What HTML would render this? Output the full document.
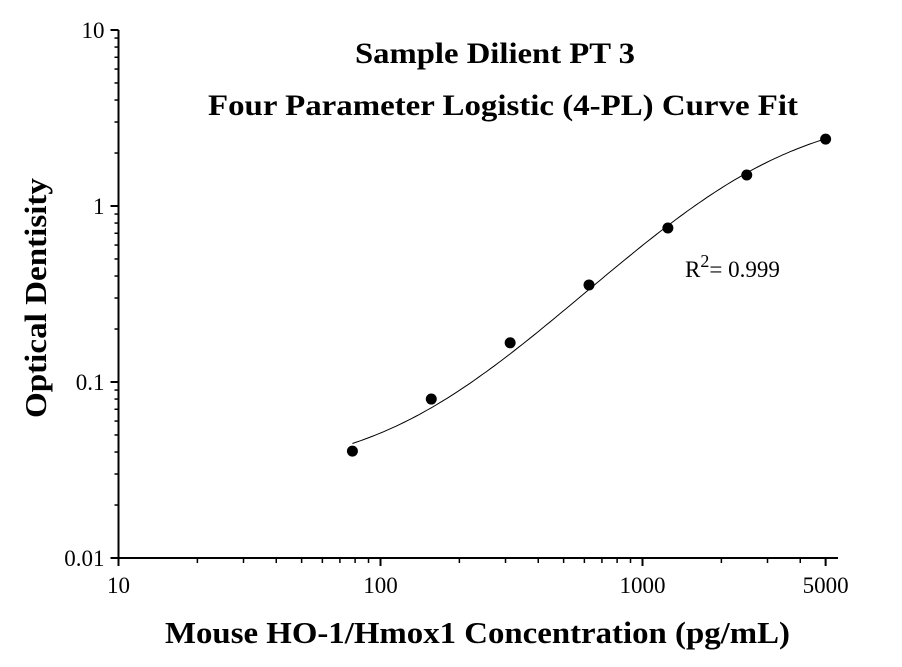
<!DOCTYPE html>
<html><head><meta charset="utf-8"><style>
html,body{margin:0;padding:0;background:#fff;}
svg{display:block;font-family:"Liberation Serif",serif;}
</style></head><body>
<svg id="chart" width="902" height="667" viewBox="0 0 902 667">
<text x="355" y="63" font-size="30" font-weight="bold" textLength="280" lengthAdjust="spacingAndGlyphs">Sample Dilient PT 3</text>
<text x="208" y="115" font-size="30" font-weight="bold" textLength="590" lengthAdjust="spacingAndGlyphs">Four Parameter Logistic (4-PL) Curve Fit</text>
<text x="165" y="643" font-size="31" font-weight="bold" textLength="625" lengthAdjust="spacingAndGlyphs">Mouse HO-1/Hmox1 Concentration (pg/mL)</text>
<text transform="translate(46,418) rotate(-90)" font-size="31" font-weight="bold" textLength="240" lengthAdjust="spacingAndGlyphs">Optical Dentisity</text>
<text x="685" y="277" font-size="23">R<tspan dy="-10" font-size="18">2</tspan><tspan dy="10">= 0.999</tspan></text>
<g id="axes"></g>
<g id="marks"></g>
</svg>
<script>
const concentrations=[78.125,156.25,312.5,625,1250,2500,5000];
const odValues=[0.0405,0.080,0.167,0.356,0.75,1.5,2.4];
const xTickValues=[10,100,1000,5000];
const xTickLabels=["10","100","1000","5000"];
const yTickValues=[0.01,0.1,1,10];
const yTickLabels=["0.01","0.1","1","10"];
const fitA=[0.03];const fitD=[3.5];const fitC=[2970];const fitB=[1.5];
const X0=118.5,XD=262,Y0=558,YD=176,XR=838;
function xs(v){return X0+(Math.log10(v)-1)*XD;}
function ys(v){return Y0-(Math.log10(v)+2)*YD;}
const NS="http://www.w3.org/2000/svg";
const axes=document.getElementById('axes'),marks=document.getElementById('marks');
function mk(tag,attrs,parent){const e=document.createElementNS(NS,tag);for(const k in attrs)e.setAttribute(k,attrs[k]);parent.appendChild(e);return e;}
let e;
e=mk('line',{x1:X0,y1:Y0,x2:XR,y2:Y0,stroke:'#000','stroke-width':2},axes);


e=mk('line',{x1:X0,y1:Y0,x2:X0,y2:ys(10),stroke:'#000','stroke-width':2},axes);


for(let d=10;d<=1000;d*=10){for(let m=2;m<=9;m++){const v=d*m;if(xs(v)>XR)break;
e=mk('line',{x1:xs(v),y1:Y0,x2:xs(v),y2:Y0+5,stroke:'#000','stroke-width':1.5},axes);

}}
for(let d=0.01;d<=1.001;d*=10){for(let m=2;m<=9;m++){const v=d*m;
e=mk('line',{x1:X0-4,y1:ys(v),x2:X0,y2:ys(v),stroke:'#000','stroke-width':1.5},axes);

}}
xTickValues.forEach((v,i)=>{
e=mk('line',{x1:xs(v),y1:Y0,x2:xs(v),y2:Y0+8,stroke:'#000','stroke-width':2},axes);


e=mk('text',{x:xs(v),y:Y0+35,'text-anchor':'middle','font-size':23},axes);e.textContent=xTickLabels[i];

});
yTickValues.forEach((v,i)=>{
e=mk('line',{x1:X0-8,y1:ys(v),x2:X0,y2:ys(v),stroke:'#000','stroke-width':2},axes);


e=mk('text',{x:X0-14,y:ys(v)+8,'text-anchor':'end','font-size':23},axes);e.textContent=yTickLabels[i];

});
function fit(x){return fitA[0]+(fitD[0]-fitA[0])/(1+Math.pow(fitC[0]/x,fitB[0]));}
let d='';const lo=Math.log10(concentrations[0]),hi=Math.log10(concentrations[concentrations.length-1]);
for(let i=0;i<=120;i++){const x=Math.pow(10,lo+(hi-lo)*i/120);d+=(i?'L':'M')+xs(x).toFixed(1)+','+ys(fit(x)).toFixed(1);}
e=mk('path',{d:d,fill:'none',stroke:'#000','stroke-width':1},marks);


concentrations.forEach((c,i)=>{
e=mk('circle',{cx:xs(c),cy:ys(odValues[i]),r:5.5,fill:'#000'},marks);

});
</script>
</body></html>
